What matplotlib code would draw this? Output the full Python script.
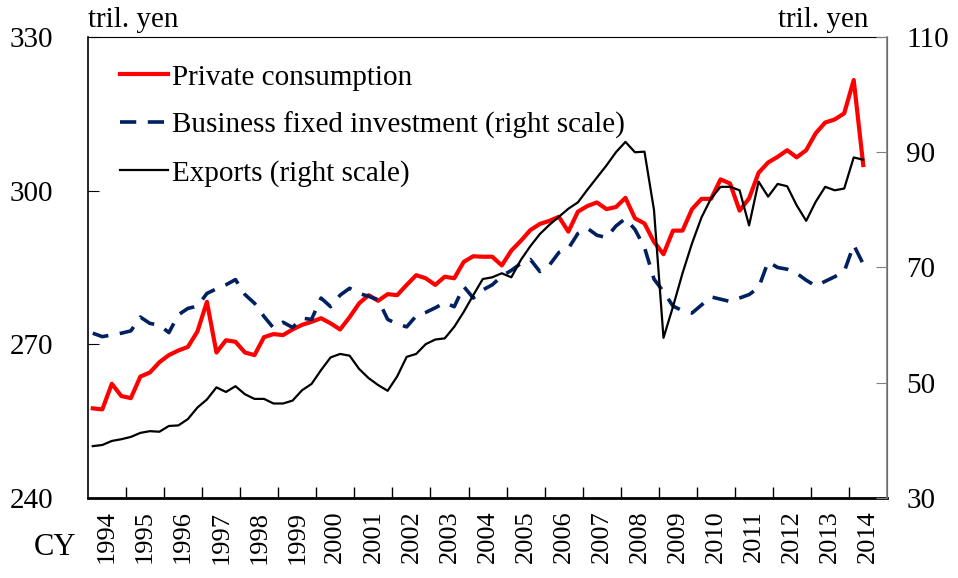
import matplotlib
matplotlib.use("Agg")
import matplotlib.pyplot as plt
import numpy as np

plt.rcParams["font.family"] = ["Liberation Serif", "DejaVu Serif"]

# quarterly, 1994Q1 - 2014Q2 (tril. yen)
consumption = [
    257.5, 257.3, 262.3, 259.9, 259.5, 263.7, 264.5, 266.5, 267.9, 268.8,
    269.5, 272.5, 278.3, 268.4, 270.8, 270.5, 268.4, 267.9, 271.4, 272.0,
    271.8, 272.9, 273.8, 274.4, 275.1, 274.1, 272.9, 275.3, 278.0, 279.6,
    278.5, 279.8, 279.6, 281.6, 283.5, 282.9, 281.6, 283.2, 282.9, 286.1,
    287.2, 287.1, 287.1, 285.4, 288.3, 290.2, 292.3, 293.5, 294.1, 294.9,
    292.0, 295.9, 297.0, 297.7, 296.4, 296.8, 298.6, 294.6, 293.6, 290.0,
    287.6, 292.2, 292.2, 296.4, 298.4, 298.4, 302.2, 301.4, 296.1, 298.5,
    303.5, 305.5, 306.6, 307.9, 306.5, 307.9, 311.2, 313.3, 313.9, 315.1,
    321.6, 305.0,
]
investment = [
    58.6, 58.0, 58.3, 58.6, 59.0, 61.4, 60.3, 60.0, 58.7, 61.8,
    62.9, 63.3, 65.5, 66.3, 67.0, 67.9, 65.3, 63.8, 61.5, 59.5,
    60.5, 59.6, 61.2, 61.0, 64.7, 63.2, 65.2, 66.4, 65.5, 65.0,
    64.4, 61.0, 60.2, 59.7, 61.6, 62.2, 63.0, 63.9, 63.2, 66.7,
    64.7, 66.1, 67.0, 68.5, 69.5, 70.7, 71.4, 69.3, 70.4, 72.6,
    73.3, 75.9, 76.8, 75.6, 75.2, 77.2, 78.5, 76.6, 73.5, 68.0,
    65.8, 63.3, 62.5, 62.1, 63.5, 64.9, 64.5, 64.1, 64.7, 65.3,
    66.5, 71.0, 70.0, 69.7, 69.0, 67.8, 66.8, 67.6, 68.4, 69.3,
    73.9, 70.6,
]
exports = [
    39.0, 39.2, 39.9, 40.2, 40.6, 41.3, 41.6, 41.5, 42.5, 42.6,
    43.7, 45.7, 47.1, 49.2, 48.4, 49.4, 48.0, 47.2, 47.2, 46.4,
    46.4, 46.9, 48.7, 49.8, 52.2, 54.4, 55.0, 54.7, 52.4, 50.8,
    49.6, 48.6, 51.1, 54.5, 55.0, 56.7, 57.5, 57.7, 59.7, 62.3,
    65.2, 68.0, 68.3, 69.0, 68.3, 71.3, 73.7, 75.8, 77.4, 78.8,
    80.2, 81.3, 83.5, 85.6, 87.7, 90.0, 91.8, 90.0, 90.1, 80.0,
    57.8, 63.2, 69.0, 74.2, 78.7, 82.0, 84.0, 84.0, 83.4, 77.3,
    84.9, 82.3, 84.5, 84.1, 80.8, 78.1, 81.4, 84.0, 83.4, 83.7,
    89.1, 88.7,
]
years = list(range(1994, 2015))

x = 1994 + (np.arange(len(consumption)) + 0.5) / 4

fig = plt.figure(figsize=(9.58, 5.78), dpi=100)
ax = fig.add_axes([0.0919, 0.1384, 0.834, 0.7976])
ax2 = ax.twinx()

l1, = ax.plot(x, consumption, color="#ff0000", lw=3.0, zorder=3)
l2, = ax2.plot(x, investment, color="#002060", lw=2.6, dashes=(4.5, 3.2))
l3, = ax2.plot(x, exports, color="black", lw=1.6)

ax.set_xlim(1994, 2015)
ax.set_ylim(240, 330)
ax2.set_ylim(30, 110)
ax.set_yticks([240, 270, 300, 330])
ax2.set_yticks([30, 50, 70, 90, 110])

# ticks on year boundaries, labels centred in each year
ax.set_xticks(range(1995, 2015))
ax.set_xticklabels([])
ax.set_xticks([y + 0.5 for y in years], minor=True)
ax.set_xticklabels([str(y) for y in years], minor=True, rotation=90,
                   fontsize=19)
ax.tick_params(axis="x", which="major", direction="in", length=8, width=1)
ax.tick_params(axis="x", which="minor", length=0, pad=9)
ax.tick_params(axis="y", direction="in", length=8, labelsize=21, pad=25)
ax2.tick_params(axis="y", direction="in", length=8, labelsize=21, pad=14,
                color="#808080")

ax.spines["bottom"].set_linewidth(2)
ax.spines["left"].set_linewidth(1.2)
ax2.spines["right"].set_color("#808080")
ax2.spines["right"].set_linewidth(1.2)
for s in ["left", "bottom", "top"]:
    ax2.spines[s].set_visible(False)

fig.text(0.092, 0.943, "tril. yen", fontsize=21, ha="left", va="bottom")
fig.text(0.907, 0.943, "tril. yen", fontsize=21, ha="right", va="bottom")
fig.text(0.057, 0.052, "CY", fontsize=22, ha="center", va="center")

ax2.legend([l1, l2, l3],
           ["Private consumption", "Business fixed investment (right scale)",
            "Exports (right scale)"],
           loc="upper left", bbox_to_anchor=(0.04, 0.941), frameon=False,
           fontsize=21, handlelength=1.64, handletextpad=0.14,
           labelspacing=0.72, borderaxespad=0, borderpad=0)

fig.savefig("out.png", dpi=100)
